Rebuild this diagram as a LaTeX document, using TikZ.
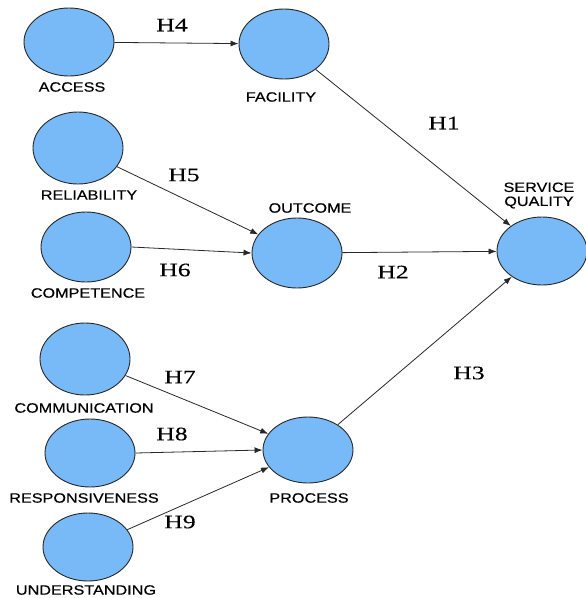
\documentclass[tikz,border=0pt]{standalone}
\usepackage{fontspec}
\usetikzlibrary{shapes.geometric,arrows.meta}
\newfontfamily\labfont[FakeStretch=1.2,FakeBold=0.4]{Liberation Sans}
\newfontfamily\hypfont[FakeStretch=1.35,FakeBold=0.3]{Liberation Serif}
\definecolor{nodeblue}{RGB}{120,185,247}
\definecolor{edgegray}{RGB}{40,40,40}
\begin{document}
\begin{tikzpicture}[x=1pt,y=-1pt,
  construct/.style={ellipse,draw=edgegray,line width=0.9pt,fill=nodeblue,inner sep=0pt,minimum width=90pt,minimum height=68pt},
  lab/.style={font=\labfont\fontsize{13.5}{14}\selectfont,inner sep=0pt,align=center},
  hyp/.style={font=\hypfont\fontsize{19}{19}\selectfont,inner sep=0pt},
  link/.style={draw=edgegray,line width=0.8pt,-{Latex[length=8pt,width=6pt]}}]
\useasboundingbox[fill=white] (0,0) rectangle (586,598);
% constructs
\node[construct] (access) at (69,42) {};
\node[construct,minimum height=70pt] (facility) at (284,44) {};
\node[construct,minimum height=72pt] (reliability) at (78,148) {};
\node[construct,minimum height=70pt] (competence) at (86,247) {};
\node[construct,minimum height=70pt] (outcome) at (297,253) {};
\node[construct] (sq) at (542,251) {};
\node[construct,minimum height=72pt] (communication) at (85,359) {};
\node[construct] (responsiveness) at (90,453) {};
\node[construct] (understanding) at (88,547) {};
\node[construct,minimum height=66pt] (process) at (308,450) {};
% labels
\node[lab] (laccess) at (72,87) {ACCESS};
\node[lab] (lfacility) at (281,97) {FACILITY};
\node[lab] (lreliability) at (89,195) {RELIABILITY};
\node[lab] (lcompetence) at (88,293) {COMPETENCE};
\node[lab] (loutcome) at (310,208) {OUTCOME};
\node[lab] (lsq) at (539,195.5) {SERVICE\\[0pt]QUALITY};
\node[lab] (lcommunication) at (84,408) {COMMUNICATION};
\node[lab] (lresponsiveness) at (84,498) {RESPONSIVENESS};
\node[lab] (lunderstanding) at (86,590) {UNDERSTANDING};
\node[lab] (lprocess) at (309,498) {PROCESS};
% hypothesis labels
\node[hyp] (h4) at (172,25) {H4};
\node[hyp] (h1) at (444,123) {H1};
\node[hyp] (h5) at (184,175) {H5};
\node[hyp] (h6) at (175,270) {H6};
\node[hyp] (h2) at (393,272) {H2};
\node[hyp] (h3) at (469,373) {H3};
\node[hyp] (h7) at (180,377) {H7};
\node[hyp] (h8) at (172,434) {H8};
\node[hyp] (h9) at (180,522) {H9};
% links
\draw[link] (access) -- (facility);
\draw[link] (facility) -- (sq);
\draw[link] (reliability) -- (outcome);
\draw[link] (competence.east) -- (outcome.west);
\draw[link] (outcome) -- (sq);
\draw[link] (process) -- (sq);
\draw[link] (communication) -- (process);
\draw[link] (responsiveness.east) -- (process.west);
\draw[link] (understanding) -- (process);
\end{tikzpicture}
\end{document}
